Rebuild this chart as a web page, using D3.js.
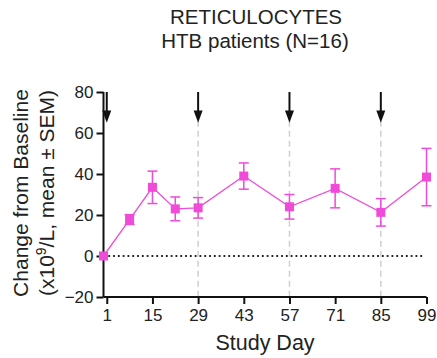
<!DOCTYPE html>
<html>
<head>
<meta charset="utf-8">
<script src="https://cdn.jsdelivr.net/npm/d3@7"></script>
<style>
  body { margin: 0; background: #fff; }
  text { font-family: "Liberation Sans", Arial, sans-serif; fill: #222; }
</style>
</head>
<body>
<svg id="chart"></svg>
<script>
// data
const days = [0, 8, 15, 22, 29, 43, 57, 71, 85, 99];
const means = [0, 17.8, 33.5, 23, 23.5, 39, 24, 33, 21.3, 38.5];
const sems = [0, 2.4, 7.9, 5.8, 5, 6.4, 6, 9.5, 6.7, 14];
const doseDays = [1, 29, 57, 85];
const xTicks = [1, 15, 29, 43, 57, 71, 85, 99];
const yTicks = [-20, 0, 20, 40, 60, 80];

const width = 437, height = 358;
const pink = "#f04ad8";

const svg = d3.select("#chart").attr("width", width).attr("height", height);

const x = d3.scaleLinear().domain([0, 99]).range([103.5, 426.5]);
const y = d3.scaleLinear().domain([-20, 80]).range([297, 92]);

// title
svg.append("text").attr("x", 256).attr("y", 24).attr("text-anchor", "middle")
  .style("font-size", "20.5px").text("RETICULOCYTES");
svg.append("text").attr("x", 255).attr("y", 48).attr("text-anchor", "middle")
  .style("font-size", "20.5px").text("HTB patients (N=16)");

// dashed lines under the later doses
svg.selectAll(".vline").data(doseDays.slice(1)).join("line")
  .attr("x1", d => x(d)).attr("x2", d => x(d))
  .attr("y1", y(66)).attr("y2", y(-20))
  .attr("stroke", "#cfcfcf").attr("stroke-width", 1.5)
  .attr("stroke-dasharray", "6,4");

// zero line
svg.append("line")
  .attr("x1", x(0)).attr("x2", x(98))
  .attr("y1", y(0)).attr("y2", y(0))
  .attr("stroke", "#222").attr("stroke-width", 1.8)
  .attr("stroke-dasharray", "1.8,3");

// axes
const yAxis = svg.append("g")
  .attr("transform", `translate(${x(0)},0)`)
  .call(d3.axisLeft(y).tickValues(yTicks).tickSize(7).tickPadding(3));
const xAxis = svg.append("g")
  .attr("transform", `translate(0,${y(-20)})`)
  .call(d3.axisBottom(x).tickValues(xTicks).tickSize(7).tickPadding(5));
[yAxis, xAxis].forEach(g => {
  g.select(".domain").attr("stroke", "#111").attr("stroke-width", 2);
  g.selectAll(".tick line").attr("stroke", "#111").attr("stroke-width", 2);
  g.selectAll(".tick text").style("font-size", "17px")
    .style("font-family", "'Liberation Sans', Arial, sans-serif").attr("fill", "#222");
});
// axis lines drawn flush without end caps
yAxis.select(".domain").attr("d", `M0,${y(80)}V${y(-20)}`);
xAxis.select(".domain").attr("d", `M${x(0)},0H${x(99)}`);

// axis titles
svg.append("text").attr("x", 265).attr("y", 350).attr("text-anchor", "middle")
  .style("font-size", "21.5px").text("Study Day");
const yt = svg.append("g").attr("transform", "translate(0,193) rotate(-90)");
yt.append("text").attr("x", 0).attr("y", 28).attr("text-anchor", "middle")
  .style("font-size", "21px").text("Change from Baseline");
const t2 = yt.append("text").attr("x", 0).attr("y", 54).attr("text-anchor", "middle")
  .style("font-size", "21px");
t2.append("tspan").text("(x10");
t2.append("tspan").attr("baseline-shift", "super").style("font-size", "14px").text("9");
t2.append("tspan").text("/L, mean \u00b1 SEM)");

// arrows for dosing
const arrows = svg.selectAll(".arrow").data(doseDays).join("g");
arrows.append("line")
  .attr("x1", d => x(d)).attr("x2", d => x(d))
  .attr("y1", y(80)).attr("y2", y(70))
  .attr("stroke", "#111").attr("stroke-width", 2);
arrows.append("path")
  .attr("d", d => `M${x(d) - 4.5},${y(71)}L${x(d) + 4.5},${y(71)}L${x(d)},${y(65)}Z`)
  .attr("fill", "#111");

const pts = days.map((d, i) => ({ day: d, m: means[i], s: sems[i] }));

// connecting line
svg.append("path").datum(pts)
  .attr("d", d3.line().x(d => x(d.day)).y(d => y(d.m)))
  .attr("fill", "none").attr("stroke", pink).attr("stroke-width", 1.3);

// error bars
const eb = svg.selectAll(".err").data(pts.filter(d => d.s > 0)).join("g")
  .attr("stroke", pink).attr("stroke-width", 1.5);
eb.append("line")
  .attr("x1", d => x(d.day)).attr("x2", d => x(d.day))
  .attr("y1", d => y(d.m + d.s)).attr("y2", d => y(d.m - d.s));
eb.append("line")
  .attr("x1", d => x(d.day) - 5).attr("x2", d => x(d.day) + 5)
  .attr("y1", d => y(d.m + d.s)).attr("y2", d => y(d.m + d.s));
eb.append("line")
  .attr("x1", d => x(d.day) - 5).attr("x2", d => x(d.day) + 5)
  .attr("y1", d => y(d.m - d.s)).attr("y2", d => y(d.m - d.s));

// square markers
svg.selectAll(".pt").data(pts).join("rect")
  .attr("x", d => x(d.day) - 4.5).attr("y", d => y(d.m) - 4.5)
  .attr("width", 9).attr("height", 9).attr("fill", pink);
</script>
</body>
</html>
